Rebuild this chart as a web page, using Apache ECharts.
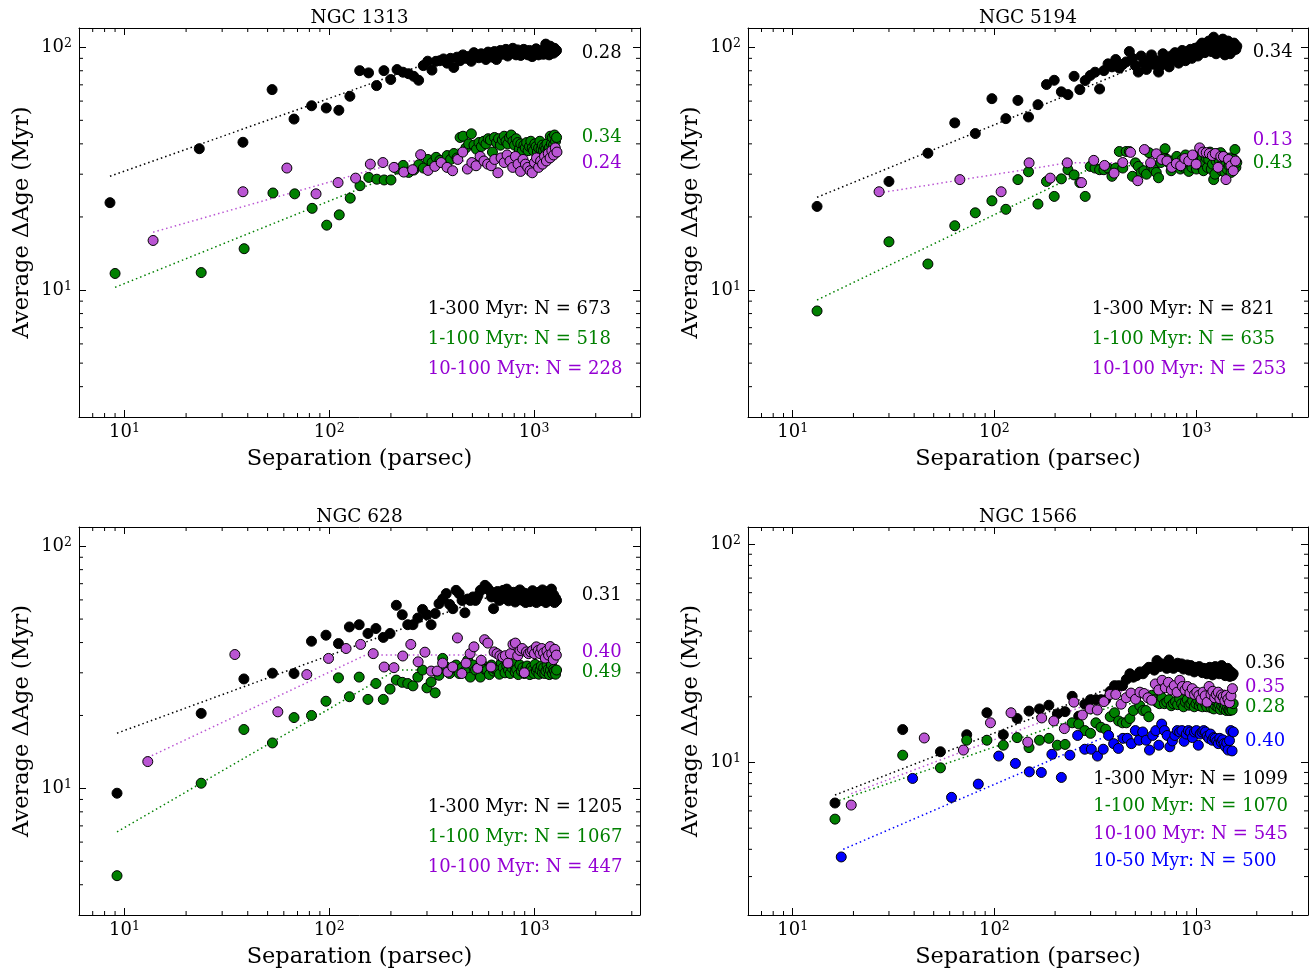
<!DOCTYPE html>
<html><head><meta charset="utf-8">
<script src="https://cdn.jsdelivr.net/npm/echarts@6/dist/echarts.min.js"></script>
<style>html,body{margin:0;padding:0;background:#fff}#c{width:1310px;height:969px}</style>
</head><body><div id="c"></div><script>
// ---------------- DATA ----------------
// NGC 1313
const n1313_x_black = [8.5,23.2,37.9,52.6,67.3,82.0,96.7,111.4,126.1,140.8,155.5,170.2,184.9,199.6,214.3,229.0,243.7,258.4,273.1,287.8,302.5,317.2,331.9,346.6,361.3,376.0,390.7,405.4,420.1,434.8,449.5,464.2,478.9,493.6,508.3,523.0,537.7,552.4,567.1,581.8,596.5,611.2,625.9,640.6,655.3,670.0,684.7,699.4,714.1,728.8,743.5,758.2,772.9,787.6,802.3,817.0,831.7,846.4,861.1,875.8,890.5,905.2,919.9,934.6,949.3,964.0,978.7,993.4,1008.1,1022.8,1037.5,1052.2,1066.9,1081.6,1096.3,1111.0,1125.7,1140.4,1155.1,1169.8,1184.5,1199.2,1213.9,1228.6,1243.3,1258.0,1272.7,1287.4];
const n1313_black = [22.9,38.2,40.6,66.9,50.6,57.4,56.2,55.0,62.8,80.1,78.4,69.5,80.1,73.6,80.9,78.9,77.8,75.9,73.1,84,87.6,80.5,87.5,88,89.5,86,90,82.5,91,88,93,90,91.5,87.5,95,92,90.5,94,92.5,89,95.5,93,91,96,89,94,97,93.5,95,98,92,96.5,94.5,99,96,93,97.5,95,92.5,96,98,94,96.5,93,97,95,91.5,96,94,98.5,95,93,96.5,94.5,97,93.5,95.5,103,94,96,93,101,95.5,97,94.5,99,96,97];
const n1313_x_green = [9.0,23.7,38.4,53.1,67.8,82.5,97.2,111.9,126.6,141.3,156.0,170.7,185.4,200.1,214.8,229.5,244.2,258.9,273.6,288.3,303.0,317.7,332.4,347.1,361.8,376.5,391.2,405.9,420.6,435.3,450.0,464.7,479.4,494.1,508.8,523.5,538.2,552.9,567.6,582.3,597.0,611.7,626.4,641.1,655.8,670.5,685.2,699.9,714.6,729.3,744.0,758.7,773.4,788.1,802.8,817.5,832.2,846.9,861.6,876.3,891.0,905.7,920.4,935.1,949.8,964.5,979.2,993.9,1008.6,1023.3,1038.0,1052.7,1067.4,1082.1,1096.8,1111.5,1126.2,1140.9,1155.6,1170.3,1185.0,1199.7,1214.4,1229.1,1243.8,1258.5,1273.2,1287.9];
const n1313_green = [11.7,11.8,14.8,25.1,24.9,21.7,18.5,20.4,23.9,26.9,29.1,28.6,28.4,28.4,31.5,32.6,30.5,31.2,32.8,31.8,34.5,33.5,35.2,34.2,33.6,35.8,34.5,36.5,35,42.5,43,38.5,40,44,39.5,38,40.5,39,41,40,42,41.5,37,42.5,40.5,42,39.5,41.5,43,41,40,42.5,43.5,41,39.5,42,40.5,38,40,37.5,39.5,38.5,40.5,37.5,39,41,38.5,37.5,40,39,37,38.5,41,38,39.5,37.5,39,38,40,37.5,38.5,43,40,42.5,39.5,43.5,41,42.5];
const n1313_x_purple = [13.8,37.9,62.1,86.2,110.4,134.5,158.7,182.8,207.0,231.1,255.3,279.4,303.6,327.7,351.9,376.0,400.2,424.3,448.5,472.6,496.8,520.9,545.1,569.2,593.4,617.5,641.7,665.8,690.0,714.1,738.3,762.4,786.6,810.7,834.9,859.0,883.2,907.3,931.5,955.6,979.8,1003.9,1028.1,1052.2,1076.4,1100.5,1124.7,1148.8,1173.0,1197.1,1221.3,1245.4,1269.6,1293.7];
const n1313_purple = [16.0,25.4,31.8,24.9,27.7,28.9,33.0,33.5,32.0,30.6,31.3,36.1,31.1,32.3,33.5,32.0,31.0,34.5,37.0,31.5,33.5,32.5,35.5,34.0,33.0,32.5,34.5,30.4,35.0,33.5,36.0,34.0,32.0,35.5,33.0,30.8,34.5,33.0,32.0,31.0,30.4,33.5,35.0,32.0,34.0,33.0,35.5,34.0,36.5,35.0,37.5,36.0,38.5,37.0];
const n1313_fit_black = [[8.5,29.4],[395,93],[1287,93]];
const n1313_fit_green = [[9.0,10.26],[500,40.2],[1288,40.2]];
const n1313_fit_purple = [[13.8,17.3],[230,34],[1294,34]];
const n1313_counts = ['1-300 Myr: N = 673','1-100 Myr: N = 518','10-100 Myr: N = 228'];
const n1313_slopes = ['0.28','0.34','0.24'];

// NGC 5194
const n5194_x = [13.2,30.0,46.8,63.6,80.4,97.2,114.0,130.8,147.6,164.4,181.2,198.0,214.8,231.6,248.4,265.2,282.0,298.8,315.6,332.4,349.2,366.0,382.8,399.6,416.4,433.2,450.0,466.8,483.6,500.4,517.2,534.0,550.8,567.6,584.4,601.2,618.0,634.8,651.6,668.4,685.2,702.0,718.8,735.6,752.4,769.2,786.0,802.8,819.6,836.4,853.2,870.0,886.8,903.6,920.4,937.2,954.0,970.8,987.6,1004.4,1021.2,1038.0,1054.8,1071.6,1088.4,1105.2,1122.0,1138.8,1155.6,1172.4,1189.2,1206.0,1222.8,1239.6,1256.4,1273.2,1290.0,1306.8,1323.6,1340.4,1357.2,1374.0,1390.8,1407.6,1424.4,1441.2,1458.0,1474.8,1491.6,1508.4,1525.2,1542.0,1558.8,1575.6,1592.4];
const n5194_black = [22.1,28.0,36.6,48.8,44.1,61.4,50.8,60.4,51.6,58.0,70.2,73.1,65.5,63.8,75.9,66.9,72.9,76.5,78.9,67.3,80.1,85.4,83,89.0,82,85,87,96,90,84,79,92,86,81,88,93,85,88,79,84,94,90,86,83,92,89,95,91,86,94,97,92,88,96,93,98,90,94,99,96,92,101,97,104,99,95,102,98,106,100,96,103,110,99,94,105,101,97,104,100,108,98,93,102,96,106,100,94,103,99,97,104,100,98,101];
const n5194_green = [8.2,15.8,12.8,18.4,20.8,23.3,21.5,28.5,30.7,22.6,28.0,24.3,28.7,31.3,29.8,27.7,24.3,32.3,31.8,31.3,31.3,31.8,29.4,31.8,37.2,31.8,37.2,37.2,29.4,33.4,32.3,30.5,31,30,36.8,32.3,31.5,30.5,29.0,33.5,36.1,38.2,34.5,33.4,31,34,32.5,35.5,33,31.5,34.5,32,36,33,30.8,34,32,35.5,33.5,31.5,33.5,36,32.5,34.5,31,33.5,35,32,34.5,37,31.5,33,28.5,30,34,36.5,32,34,36.8,31,33.5,35.5,30.5,33,31.5,34.5,32.5,35,30.5,33.5,31.5,34.5,37.9,32,33.5];
const n5194_x_purple = [26.8,67.4,108.0,148.6,189.2,229.8,270.4,311.0,351.6,392.2,432.8,473.4,514.0,554.6,595.2,635.8,676.4,717.0,757.6,798.2,838.8,879.4,920.0,960.6,1001.2,1041.8,1082.4,1123.0,1163.6,1204.2,1244.8,1285.4,1326.0,1366.6,1407.2,1447.8,1488.4,1529.0,1569.6];
const n5194_purple = [25.4,28.5,25.4,33.4,28.9,33.4,27.7,34.2,32.6,30.3,33.5,36.9,28.2,37.9,33.4,36.4,34.5,34.0,32.0,33.2,32.5,34.8,34.0,36.0,33.0,38.5,37.0,36.8,36.5,35.8,36.5,32.0,35.5,35.5,28.5,34.5,32.5,31.0,34.0];
const n5194_fit_black = [[13.2,24.1],[750,95],[1592,95]];
const n5194_fit_green = [[13.2,9.1],[320,32.5],[1592,32.5]];
const n5194_fit_purple = [[26.8,25.1],[230,33.4],[1570,33.4]];
const n5194_counts = ['1-300 Myr: N = 821','1-100 Myr: N = 635','10-100 Myr: N = 253'];
const n5194_slopes = ['0.34','0.13','0.43'];

// NGC 628
const n628_x = [9.2,23.7,38.3,52.8,67.3,81.9,96.4,110.9,125.4,140.0,154.5,169.0,183.6,198.1,212.6,227.2,241.7,256.2,270.7,285.3,299.8,314.3,328.9,343.4,357.9,372.5,387.0,401.5,416.0,430.6,445.1,459.6,474.2,488.7,503.2,517.8,532.3,546.8,561.3,575.9,590.4,604.9,619.5,634.0,648.5,663.1,677.6,692.1,706.6,721.2,735.7,750.2,764.8,779.3,793.8,808.4,822.9,837.4,851.9,866.5,881.0,895.5,910.1,924.6,939.1,953.7,968.2,982.7,997.2,1011.8,1026.3,1040.8,1055.4,1069.9,1084.4,1099.0,1113.5,1128.0,1142.5,1157.1,1171.6,1186.1,1200.7,1215.2,1229.7,1244.3,1258.8,1273.3,1287.8];
const n628_black = [9.55,20.4,28.3,29.9,29.8,40.5,42.9,39.6,46.4,47.4,43.6,45.7,42,43.6,57.0,52.1,47.4,47.4,50.5,54.8,52.1,47.4,52.7,57.9,60.5,63.7,57.5,55.2,65.7,63.7,59.7,53.1,60.5,59.7,61.7,59.7,62.5,65.7,66.5,68.9,67.5,65.7,61.7,55.2,61.7,65.0,59.7,63.5,65.7,61,66.5,59.5,63,60.5,64.5,58.8,62.5,60,66,61.5,59.7,64,58.5,61.5,63.5,59,62,65.5,60,63,58.5,61.5,64.5,59.5,62,66,60.5,63.5,58.5,61.5,65,59.5,62.5,66.5,60,63,58.5,61,59.7];
const n628_green = [4.36,10.5,17.5,15.4,19.6,20.0,22.9,28.6,23.9,28.8,23.3,27.1,23.3,25.7,28.0,27.4,27.1,26.5,28.8,30.8,26.0,27.5,24.8,29.3,34.4,31.7,29.8,31.5,32.3,29.8,31.5,30.5,33.8,28.8,32.3,30.8,31.5,28.8,32.3,31,30.8,29.5,32.3,30.5,31,30.8,29.6,33,31.5,30,32,30.8,29.8,31.5,32.5,30.2,31,29.5,32.3,30.5,31.5,29.8,31,32,30.4,29.5,31.5,30.8,29.8,32.5,30.5,31.2,29.6,30.8,32,30,31.5,29.8,30.5,32.2,31,29.5,30.8,32.3,29.8,31,30.5,29.6,30.8];
const n628_x_purple = [13.0,34.6,56.1,77.7,99.2,120.8,142.3,163.9,185.4,207.0,228.5,250.1,271.6,293.2,314.7,336.3,357.8,379.4,400.9,422.5,444.0,465.6,487.1,508.7,530.2,551.8,573.3,594.9,616.4,638.0,659.5,681.1,702.6,724.2,745.7,767.3,788.8,810.4,831.9,853.5,875.0,896.6,918.1,939.7,961.2,982.8,1004.3,1025.9,1047.4,1069.0,1090.5,1112.1,1133.6,1155.2,1176.7,1198.3,1219.8,1241.4,1262.9,1284.5];
const n628_purple = [12.9,35.7,20.7,29.5,34.4,37.8,39.3,36.0,31.7,31.5,35.2,39.3,33.3,36.5,30.5,30.5,32.9,30.2,31.7,41.8,29.8,32.9,36.0,38.4,31.3,33.8,41.1,39.8,31.7,36.6,36.0,35.3,34.9,35.3,32.9,36.0,39.3,39.8,35.3,37.1,37.8,30.0,36.6,36.0,36.6,37.1,36.0,38.4,37.1,36.0,37.8,36.2,34.5,37,35.5,38.5,36,34,37.5,35.5];
const n628_fit_black = [[9.2,16.9],[580,61],[1288,61]];
const n628_fit_green = [[9.2,6.61],[212,30.8],[1288,30.8]];
const n628_fit_purple = [[13.0,13.4],[150,35.5],[1284,35.5]];
const n628_counts = ['1-300 Myr: N = 1205','1-100 Myr: N = 1067','10-100 Myr: N = 447'];
const n628_slopes = ['0.31','0.40','0.49'];

// NGC 1566
const n1566_x = [16.2,35.1,54.0,72.9,91.8,110.7,129.6,148.5,167.4,186.3,205.2,224.1,243.0,261.9,280.8,299.7,318.6,337.5,356.4,375.3,394.2,413.1,432.0,450.9,469.8,488.7,507.6,526.5,545.4,564.3,583.2,602.1,621.0,639.9,658.8,677.7,696.6,715.5,734.4,753.3,772.2,791.1,810.0,828.9,847.8,866.7,885.6,904.5,923.4,942.3,961.2,980.1,999.0,1017.9,1036.8,1055.7,1074.6,1093.5,1112.4,1131.3,1150.2,1169.1,1188.0,1206.9,1225.8,1244.7,1263.6,1282.5,1301.4,1320.3,1339.2,1358.1,1377.0,1395.9,1414.8,1433.7,1452.6,1471.5,1490.4,1509.3,1528.2];
const n1566_black = [6.52,14.15,11.2,13.4,16.9,13.4,15.9,17.2,17.6,18.3,16.7,17.1,20.1,16.3,18.5,19.4,19.4,19.4,19.4,21.2,22.5,22.5,22.5,24.0,25.5,24.6,25.0,26.0,25.5,26.5,27.3,27.3,26.5,29.3,27.5,28.3,28.0,27.0,29.5,28.0,27.0,27.8,28.5,27.5,28.3,26.8,27.5,28.0,26.5,27.8,27.0,26.0,27.3,26.8,27.5,26.4,25.8,27.0,26.2,25.5,26.8,27.3,26.0,25.2,26.5,27.5,25.8,26.3,25.5,26.8,27.8,25.5,26.4,25.0,26.2,27.0,25.5,24.8,26.0,25.0,25.5];
const n1566_green = [5.5,10.8,9.45,12.65,12.65,12.0,13.0,11.7,12.65,12.9,12.0,12.1,15.2,15.0,14.0,13.6,15.2,14.5,14.2,16.2,16.9,15.5,15.2,15.2,15.9,17.3,20.3,18.2,17.3,17.3,16.2,20.3,19.4,18.9,18.6,19.8,18.6,18.9,19.4,18.2,18.6,19.0,18.4,19.6,18.6,18.0,18.9,19.4,18.3,18.6,19.2,18.0,18.6,19.4,18.2,18.8,18.0,19.3,18.6,18.0,19.0,18.4,17.8,18.6,17.6,18.3,19.0,17.9,18.4,17.5,18.2,18.8,17.6,18.3,17.3,17.9,17.4,17.3,18.0,17.4,18.6];
const n1566_x_purple = [19.5,44.9,70.2,95.6,120.9,146.3,171.6,197.0,222.3,247.7,273.0,298.4,323.7,349.1,374.4,399.8,425.1,450.5,475.8,501.2,526.5,551.9,577.2,602.6,627.9,653.3,678.6,704.0,729.3,754.7,780.0,805.4,830.7,856.1,881.4,906.8,932.1,957.5,982.8,1008.2,1033.5,1058.9,1084.2,1109.6,1134.9,1160.3,1185.6,1211.0,1236.3,1261.7,1287.0,1312.4,1337.7,1363.1,1388.4,1413.8,1439.1,1464.5,1489.8,1515.2];
const n1566_purple = [6.38,12.95,11.4,15.2,16.9,12.4,16.0,15.5,14.3,18.9,16.5,17.6,17.4,19.0,20.5,20.5,18.5,19.8,20.8,19.5,21.0,20.7,19.8,19.3,22.9,21.5,23.8,22.0,23.3,21.5,22.5,21.0,23.8,22.3,21.5,22.3,20.8,21.8,20.5,21.0,20.3,19.5,21.0,20.2,18.9,22.3,20.5,21.2,19.8,20.5,21.0,19.6,20.4,20.0,19.2,20.3,19.5,18.8,20.2,21.8];
const n1566_x_blue = [17.4,39.3,61.3,83.2,105.1,127.1,149.0,170.9,192.8,214.8,236.7,258.6,280.6,302.5,324.4,346.4,368.3,390.2,412.1,434.1,456.0,477.9,499.9,521.8,543.7,565.7,587.6,609.5,631.4,653.4,675.3,697.2,719.2,741.1,763.0,785.0,806.9,828.8,850.7,872.7,894.6,916.5,938.5,960.4,982.3,1004.3,1026.2,1048.1,1070.0,1092.0,1113.9,1135.8,1157.8,1179.7,1201.6,1223.6,1245.5,1267.4,1289.3,1311.3,1333.2,1355.1,1377.1,1399.0,1420.9,1442.9,1464.8,1486.7,1508.6,1530.6];
const n1566_blue = [3.69,8.45,6.92,7.96,10.7,9.9,9.06,9.0,10.9,8.54,10.8,13.3,11.5,11.5,10.7,11.5,13.3,12.2,11.6,12.9,12.9,12.2,14.0,12.65,13.8,12.65,11.4,13.3,14.0,12.0,15.0,14.0,13.3,11.8,12.55,13.3,14.0,13.8,14.0,12.5,13.5,14.0,13.8,13.0,13.8,14.0,12.0,13.5,13.8,14.0,13.8,13.2,12.9,13.5,12.65,13.0,12.9,12.5,12.2,12.9,12.4,12.7,12.2,11.8,12.3,11.4,12.6,14.0,11.3,13.8];
const n1566_fit_black = [[16.2,7.09],[665,27],[1528,27]];
const n1566_fit_green = [[16.2,6.6],[420,18.6],[1528,18.6]];
const n1566_fit_purple = [[19.5,7.2],[450,21.5],[1515,21.5]];
const n1566_fit_blue = [[17.8,4.0],[360,13.2],[1530,13.2]];
const n1566_counts = ['1-300 Myr: N = 1099','1-100 Myr: N = 1070','10-100 Myr: N = 545','10-50 Myr: N = 500'];
const n1566_slopes = ['0.36','0.35','0.28','0.40'];

// minor tick positions (log axes)
const xMinorTicks = [7,8,9,20,30,40,50,60,70,80,90,200,300,400,500,600,700,800,900,2000,3000];
const yMinorTicksA = [4,5,6,7,8,9,20,30,40,50,60,70,80,90];
const yMinorTicksB = [3,4,5,6,7,8,9,20,30,40,50,60,70,80,90];

// ---------------- STYLE / LAYOUT ----------------
const FONT = 'DejaVu Serif';
const C = {black:'#000000', green:'#008000', purple:'#BA55D3', purpleText:'#9400D3', blue:'#0000ff'};
const zip = (xs, ys) => xs.map((x, i) => [x, ys[i]]);
const DY = 2; // text baseline correction

const panels = [
  {title:'NGC 1313', grid:{left:79,top:28,width:561,height:389}, xr:[6,3290], yr:[3,120], yMinor:yMinorTicksA,
   scat:[[n1313_x_black,n1313_black,C.black],[n1313_x_green,n1313_green,C.green],[n1313_x_purple,n1313_purple,C.purple]],
   fits:[[n1313_fit_black,C.black],[n1313_fit_green,C.green],[n1313_fit_purple,C.purple]],
   counts:n1313_counts, countCol:[C.black,C.green,C.purpleText], countPos:[427.7,[307.3,337.5,367.5]],
   slopes:n1313_slopes, slopeCol:[C.black,C.green,C.purpleText], slopePos:[581.7,[51.5,135.8,161.7]], titlePos:[359.5,16.3]},
  {title:'NGC 5194', grid:{left:748,top:28,width:560,height:389}, xr:[6,3590], yr:[3,120], yMinor:yMinorTicksA,
   scat:[[n5194_x,n5194_black,C.black],[n5194_x,n5194_green,C.green],[n5194_x_purple,n5194_purple,C.purple]],
   fits:[[n5194_fit_black,C.black],[n5194_fit_green,C.green],[n5194_fit_purple,C.purple]],
   counts:n5194_counts, countCol:[C.black,C.green,C.purpleText], countPos:[1091.7,[307.3,337.5,367.5]],
   slopes:n5194_slopes, slopeCol:[C.black,C.purpleText,C.green], slopePos:[1252.7,[50,138.3,161]], titlePos:[1028,16.3]},
  {title:'NGC 628', grid:{left:79,top:527,width:561,height:388}, xr:[6,3290], yr:[3,120], yMinor:yMinorTicksA,
   scat:[[n628_x,n628_black,C.black],[n628_x,n628_green,C.green],[n628_x_purple,n628_purple,C.purple]],
   fits:[[n628_fit_black,C.black],[n628_fit_green,C.green],[n628_fit_purple,C.purple]],
   counts:n628_counts, countCol:[C.black,C.green,C.purpleText], countPos:[427.7,[805.5,835.5,865.5]],
   slopes:n628_slopes, slopeCol:[C.black,C.purpleText,C.green], slopePos:[581.7,[593.3,650,670]], titlePos:[359.5,515]},
  {title:'NGC 1566', grid:{left:748,top:527,width:560,height:388}, xr:[6,3590], yr:[2,120], yMinor:yMinorTicksB,
   scat:[[n1566_x,n1566_black,C.black],[n1566_x,n1566_green,C.green],[n1566_x_purple,n1566_purple,C.purple],[n1566_x_blue,n1566_blue,C.blue]],
   fits:[[n1566_fit_black,C.black],[n1566_fit_green,C.green],[n1566_fit_purple,C.purple],[n1566_fit_blue,C.blue]],
   counts:n1566_counts, countCol:[C.black,C.green,C.purpleText,C.blue], countPos:[1093.3,[777.5,804.2,832.5,859.2]],
   slopes:n1566_slopes, slopeCol:[C.black,C.purpleText,C.green,C.blue], slopePos:[1245,[661.7,685.3,705.8,739]], titlePos:[1028,515]}
];

const rich = {
  b:{fontFamily:FONT, fontSize:18, color:'#000'},
  e:{fontFamily:FONT, fontSize:12.5, color:'#000', verticalAlign:'top', padding:[0,0,7,0]}
};
const powFmt = v => '{b|10}{e|' + Math.round(Math.log10(v)) + '}';
const lineAx = {show:true, lineStyle:{color:'#000', width:1}};
const tickAx = {show:true, inside:true, length:7, lineStyle:{color:'#000', width:1}};

const grid = [], xAxis = [], yAxis = [], series = [], graphic = [];
panels.forEach((p, i) => {
  grid.push(Object.assign({outerBoundsMode:'none', containLabel:false}, p.grid));
  xAxis.push({type:'log', logBase:10, gridIndex:i, position:'bottom', min:p.xr[0], max:p.xr[1],
    axisLine:lineAx, axisTick:tickAx, splitLine:{show:false},
    axisLabel:{formatter:powFmt, rich, margin:5, showMinLabel:false, showMaxLabel:false},
    name:'Separation (parsec)', nameLocation:'middle', nameGap:31,
    nameTextStyle:{fontFamily:FONT, fontSize:22.5, color:'#000'}});
  xAxis.push({type:'log', logBase:10, gridIndex:i, position:'top', min:p.xr[0], max:p.xr[1],
    axisLine:lineAx, axisTick:tickAx, splitLine:{show:false}, axisLabel:{show:false}});
  yAxis.push({type:'log', logBase:10, gridIndex:i, position:'left', min:p.yr[0], max:p.yr[1],
    axisLine:lineAx, axisTick:tickAx, splitLine:{show:false},
    axisLabel:{formatter:powFmt, rich, margin:7, showMinLabel:false, showMaxLabel:false},
    name:'Average \u0394Age (Myr)', nameLocation:'middle', nameGap:45,
    nameTextStyle:{fontFamily:FONT, fontSize:22.5, color:'#000'}});
  yAxis.push({type:'log', logBase:10, gridIndex:i, position:'right', min:p.yr[0], max:p.yr[1],
    axisLine:lineAx, axisTick:tickAx, splitLine:{show:false}, axisLabel:{show:false}});
  const xi = 2*i, yi = 2*i;
  p.fits.forEach(f => series.push({type:'line', xAxisIndex:xi, yAxisIndex:yi, data:f[0], symbol:'none', silent:true, z:2,
    lineStyle:{color:f[1], width:1.5, type:[1.5,3]}}));
  p.scat.forEach(s => series.push({type:'scatter', xAxisIndex:xi, yAxisIndex:yi, data:zip(s[0], s[1]), symbolSize:10, silent:true, z:3,
    itemStyle:{color:s[2], borderColor:'#000', borderWidth:1, opacity:1}}));
  series.push({type:'custom', xAxisIndex:xi, yAxisIndex:yi, silent:true, z:6, clip:false,
    data:xMinorTicks.map(v => [v, p.yr[0]]),
    renderItem:(params, api) => {
      const cs = params.coordSys; const pt = api.coord([api.value(0), api.value(1)]);
      const st = {stroke:'#000', lineWidth:1};
      return {type:'group', children:[
        {type:'line', shape:{x1:pt[0], y1:cs.y+cs.height, x2:pt[0], y2:cs.y+cs.height-4}, style:st},
        {type:'line', shape:{x1:pt[0], y1:cs.y, x2:pt[0], y2:cs.y+4}, style:st}]};
    }});
  series.push({type:'custom', xAxisIndex:xi, yAxisIndex:yi, silent:true, z:6, clip:false,
    data:p.yMinor.map(v => [p.xr[0], v]),
    renderItem:(params, api) => {
      const cs = params.coordSys; const pt = api.coord([api.value(0), api.value(1)]);
      const st = {stroke:'#000', lineWidth:1};
      return {type:'group', children:[
        {type:'line', shape:{x1:cs.x, y1:pt[1], x2:cs.x+4, y2:pt[1]}, style:st},
        {type:'line', shape:{x1:cs.x+cs.width, y1:pt[1], x2:cs.x+cs.width-4, y2:pt[1]}, style:st}]};
    }});
  graphic.push({type:'text', x:p.titlePos[0], y:p.titlePos[1]+DY, silent:true,
    style:{text:p.title, fill:'#000', font:'18.5px "'+FONT+'"', textAlign:'center', textVerticalAlign:'middle'}});
  p.counts.forEach((t, k) => graphic.push({type:'text', x:p.countPos[0], y:p.countPos[1][k]+DY, silent:true,
    style:{text:t, fill:p.countCol[k], font:'18px "'+FONT+'"', textAlign:'left', textVerticalAlign:'middle'}}));
  p.slopes.forEach((t, k) => graphic.push({type:'text', x:p.slopePos[0], y:p.slopePos[1][k]+DY, silent:true,
    style:{text:t, fill:p.slopeCol[k], font:'18px "'+FONT+'"', textAlign:'left', textVerticalAlign:'middle'}}));
});

const chart = echarts.init(document.getElementById('c'), null, {renderer:'canvas'});
chart.setOption({animation:false, backgroundColor:'#fff', textStyle:{fontFamily:FONT},
  grid, xAxis, yAxis, series, graphic});
</script></body></html>
